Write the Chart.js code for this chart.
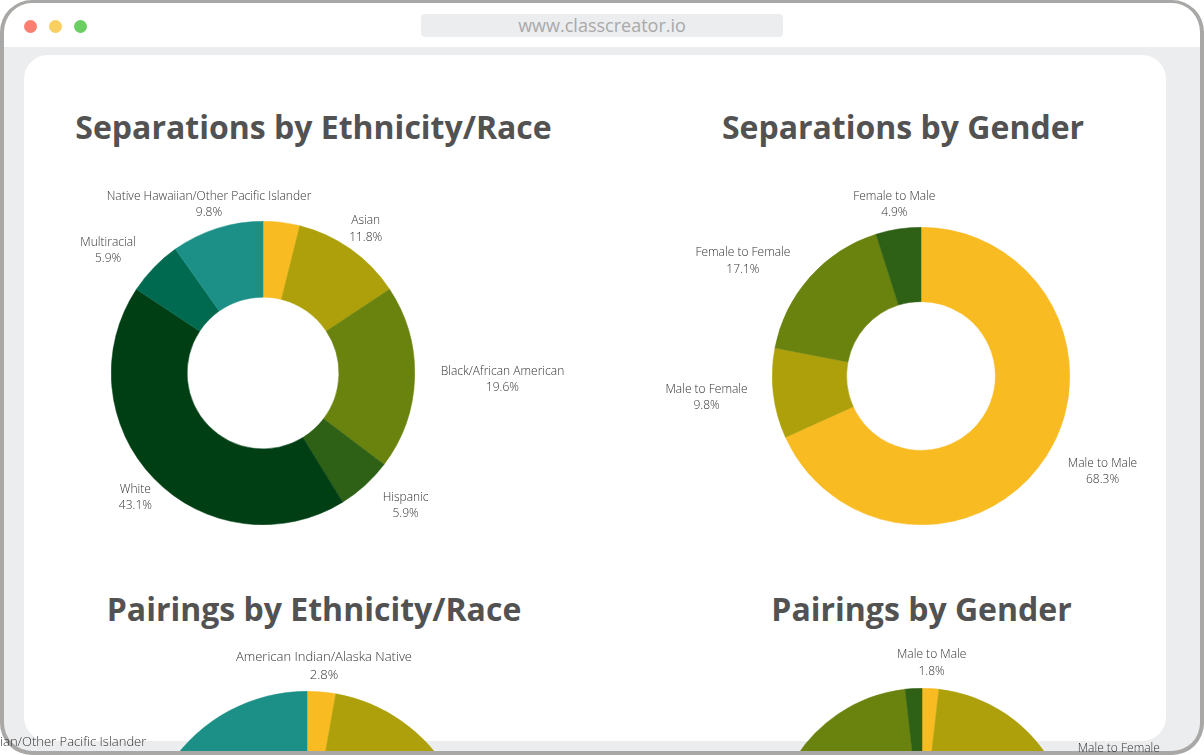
<!DOCTYPE html>
<html>
<head>
<meta charset="utf-8">
<title>Class Creator charts</title>
<script src="https://cdn.jsdelivr.net/npm/chart.js@4"></script>
<style>
  html, body { margin: 0; padding: 0; background: #fff; overflow: hidden; }
  #stage { position: relative; width: 1204px; height: 755px; overflow: hidden; background: #ecedef;
           font-family: "Open Sans", sans-serif; color: #525252; }
  #header { position: absolute; left: 0; top: 0; width: 1204px; height: 47px; background: #fff; }
  .dot { position: absolute; top: 19.5px; width: 13px; height: 13px; border-radius: 50%; }
  #url { position: absolute; left: 421px; top: 14px; width: 362px; height: 23px; border-radius: 4px;
         background: #ecedef; color: #a9a9a9; font-size: 18px; line-height: 23px; text-align: center; }
  #card { position: absolute; left: 24px; top: 55px; width: 1142px; height: 686px; border-radius: 24px; background: #fff; }
  #frame { position: absolute; left: 0; top: 0; width: 1196px; height: 748px; border: solid #a9a8a6;
           border-width: 3px 4px 4px 4px; border-radius: 32px; box-shadow: 0 0 0 60px #fff; z-index: 5; }
  .title { position: absolute; width: 700px; margin-left: -350px; text-align: center; font-size: 32px;
           font-weight: 700; line-height: 44px; white-space: nowrap; }
  .pie { position: absolute; }
  #labels { position: absolute; left: 0; top: 0; width: 1204px; height: 755px; z-index: 6; }
  .slice-label { position: absolute; white-space: nowrap; text-align: center; font-weight: 300; color: #333; }
</style>
</head>
<body>
<div id="stage">
  <div id="header">
    <div class="dot" style="left:24px;background:#fb7f71"></div>
    <div class="dot" style="left:49px;background:#f9cf60"></div>
    <div class="dot" style="left:74px;background:#6bce62"></div>
    <div id="url">www.classcreator.io</div>
  </div>
  <div id="card"></div>

  <div class="title" style="left:313.5px;top:105px">Separations by Ethnicity/Race</div>
  <div class="title" style="left:903px;top:105px">Separations by Gender</div>
  <div class="title" style="left:314px;top:587px">Pairings by Ethnicity/Race</div>
  <div class="title" style="left:921.5px;top:587px">Pairings by Gender</div>

  <canvas class="pie" id="sepRace"></canvas>
  <canvas class="pie" id="sepGender"></canvas>
  <canvas class="pie" id="pairRace"></canvas>
  <canvas class="pie" id="pairGender"></canvas>

  <div id="frame"></div>
  <div id="labels"></div>
</div>

<script>
// ── Data ────────────────────────────────────────────────
const raceCategories = [
  "American Indian/Alaska Native", "Asian", "Black/African American", "Hispanic",
  "White", "Multiracial", "Native Hawaiian/Other Pacific Islander"
];
const genderCategories = ["Male to Male", "Male to Female", "Female to Female", "Female to Male"];

const sepRaceValues    = [3.9, 11.8, 19.6, 5.9, 43.1, 5.9, 9.8];
const sepGenderValues  = [68.3, 9.8, 17.1, 4.9];
// most of the two lower charts is cut off by the window, so those slices are estimates
const pairRaceValues   = [2.8, 13.9, 24.3, 5.6, 19.4, 2.7, 31.3];
const pairGenderValues = [1.8, 30.9, 65.5, 1.8];

const raceColors   = ["#f8bb22", "#ada00a", "#6a830f", "#2e6115", "#003f14", "#006a50", "#1c9087"];
const genderColors = ["#f8bb22", "#ada00a", "#6a830f", "#2e6115"];

// ── Label plugin: text sits just off the rim, pushed sideways if it hits the pie ──
const labelLayer = document.getElementById("labels");

const sliceLabels = {
  id: "sliceLabels",
  afterDraw(chart, args, opts) {
    if (chart.$labelsDone) return;
    chart.$labelsDone = true;

    const box = chart.canvas.getBoundingClientRect();
    const values = chart.data.datasets[0].data;

    chart.getDatasetMeta(0).data.forEach((arc, i) => {
      if (opts.hidden.includes(i)) return;

      const { x, y, startAngle, endAngle, outerRadius } =
        arc.getProps(["x", "y", "startAngle", "endAngle", "outerRadius"], true);
      const mid = (startAngle + endAngle) / 2;
      const dist = outerRadius + opts.gap;
      const dx = Math.cos(mid) * dist;
      const dy = Math.sin(mid) * dist;

      const el = document.createElement("div");
      el.className = "slice-label";
      el.style.fontSize = opts.size + "px";
      el.style.lineHeight = opts.line + "px";
      el.innerHTML = chart.data.labels[i] + "<br>" + values[i].toFixed(1) + "%";
      labelLayer.appendChild(el);

      const w = el.offsetWidth;
      const h = el.offsetHeight;

      // closest point of the label box to the pie centre
      const nearX = Math.max(Math.abs(dx) - w / 2, 0);
      const nearY = Math.max(Math.abs(dy) - h / 2, 0);
      const hitsPie = Math.hypot(nearX, nearY) < outerRadius;
      const shift = hitsPie ? Math.sign(dx) * w / 2 : 0;

      el.style.left = (box.left + x + dx + shift - w / 2) + "px";
      el.style.top  = (box.top + y + dy - h / 2 + 0.7) + "px";
    });
  }
};

Chart.register(sliceLabels);

// ── Charts ──────────────────────────────────────────────
function drawPie(id, categories, values, colors, cx, cy, radius, labelOpts) {
  const canvas = document.getElementById(id);
  canvas.style.left = (cx - radius) + "px";
  canvas.style.top = (cy - radius) + "px";
  canvas.style.width = radius * 2 + "px";
  canvas.style.height = radius * 2 + "px";
  canvas.width = radius * 2;
  canvas.height = radius * 2;

  new Chart(canvas, {
    type: "doughnut",
    data: {
      labels: categories,
      datasets: [{ data: values, backgroundColor: colors, borderColor: colors, borderWidth: 0.5 }]
    },
    options: {
      responsive: false,
      animation: false,
      cutout: "50%",
      layout: { padding: 0 },
      plugins: {
        legend: { display: false },
        tooltip: { enabled: false },
        sliceLabels: { gap: 26, size: 12, line: 16.5, hidden: [], ...labelOpts }
      }
    }
  });
}

drawPie("sepRace",    raceCategories,   sepRaceValues,    raceColors,   263, 373, 152, { hidden: [0] });
drawPie("sepGender",  genderCategories, sepGenderValues,  genderColors, 921, 376, 149, {});
drawPie("pairRace",   raceCategories,   pairRaceValues,   raceColors,   307, 856, 165, { size: 13, line: 18, gap: 28, hidden: [1] });
drawPie("pairGender", genderCategories, pairGenderValues, genderColors, 921.5, 838, 150, { line: 17, gap: 27, hidden: [3] });
</script>
</body>
</html>
